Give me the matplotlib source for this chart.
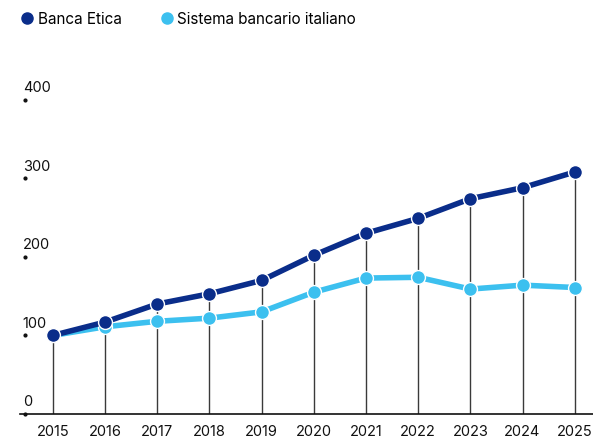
import matplotlib
matplotlib.use("Agg")
import matplotlib.pyplot as plt
from matplotlib.lines import Line2D

years = [2015, 2016, 2017, 2018, 2019, 2020, 2021, 2022, 2023, 2024, 2025]
banca_etica = [100, 117, 140, 153, 170, 202, 230, 249, 274, 288, 308]
sistema = [100, 111, 118, 122, 130, 155, 173, 174, 159, 164, 161]
series_names = ["Banca Etica", "Sistema bancario italiano"]
y_ticks = [0, 100, 200, 300, 400]

DARK = "#0a2d8a"
LIGHT = "#3cc0ef"
plt.rcParams["font.family"] = ["Inter", "DejaVu Sans"]

fig = plt.figure(figsize=(5.93, 4.46), dpi=100, facecolor="white")
ax = fig.add_axes([20 / 593, 32 / 446, 573 / 593, 330 / 446])

# linee verticali dal punto più alto fino all'asse
for x, a, b in zip(years, banca_etica, sistema):
    ax.plot([x, x], [0, max(a, b)], color="#3a3a3a", lw=1.0, zorder=1)

ax.plot(years, sistema, color=LIGHT, lw=4, marker="o", ms=10,
        mfc=LIGHT, mec="white", mew=1, zorder=2, solid_capstyle="round")
ax.plot(years, banca_etica, color=DARK, lw=4, marker="o", ms=10,
        mfc=DARK, mec="white", mew=1, zorder=3, solid_capstyle="round")

ax.set_xlim(2014.37, 2025.35)
ax.set_ylim(0, 420)
ax.set_xticks(years)
ax.set_xticklabels([str(y) for y in years], fontsize=10.5, color="#111")
ax.tick_params(axis="x", length=0, pad=8)
ax.set_yticks([])
for s in ("top", "right", "left"):
    ax.spines[s].set_visible(False)
ax.spines["bottom"].set_color("#111")
ax.spines["bottom"].set_linewidth(1.2)

tr = ax.get_yaxis_transform()
for v in y_ticks:
    ax.text(0.005, v + 6, str(v), transform=tr, ha="left", va="bottom",
            fontsize=10.5, color="#111")
    ax.plot([0.009], [v], transform=tr, marker="o", ms=2, color="#111",
            clip_on=False, zorder=4)

handles = [Line2D([], [], ls="none", marker="o", ms=8, color=c) for c in (DARK, LIGHT)]
fig.legend(handles, series_names, loc="upper left", bbox_to_anchor=(7 / 593, 1.005),
           ncol=2, frameon=False, fontsize=11, handletextpad=0.3,
           columnspacing=2.55, handlelength=0.8)

fig.savefig("out.png", dpi=100, facecolor="white")
